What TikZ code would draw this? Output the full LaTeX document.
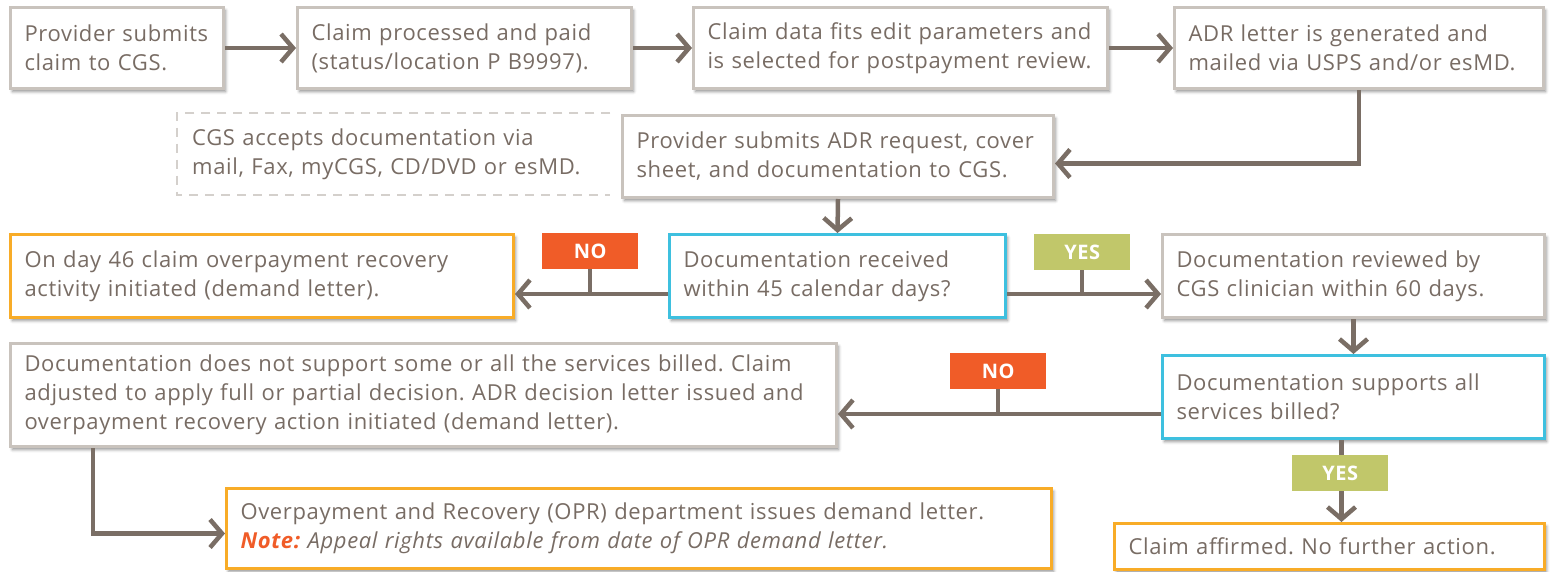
\documentclass[tikz,border=0pt]{standalone}
\usepackage{fontspec}
\setmainfont{Open Sans}[LetterSpace=3]
\usetikzlibrary{calc,positioning,shadows.blur,arrows.meta}

\definecolor{txtgray}{RGB}{120,108,100}
\definecolor{linegray}{RGB}{122,110,101}
\definecolor{boxgray}{RGB}{201,195,189}
\definecolor{dashgray}{RGB}{212,208,204}
\definecolor{qcyan}{RGB}{62,192,223}
\definecolor{endorange}{RGB}{248,172,40}
\definecolor{noorange}{RGB}{240,92,40}
\definecolor{yesgreen}{RGB}{193,199,106}

\begin{document}
\frenchspacing
\begin{tikzpicture}[x=1pt,y=-1pt]

  \tikzstyle{every node}=[font=\fontsize{22}{29}\selectfont, text=txtgray]
  \tikzstyle{box}=[draw=boxgray, line width=3pt, fill=white, anchor=north west, align=left,
    inner xsep=14pt, inner ysep=0pt,
    blur shadow={shadow xshift=2pt, shadow yshift=-3pt, shadow blur radius=3pt, shadow opacity=45}]
  \tikzstyle{question}=[box, draw=qcyan]
  \tikzstyle{final}=[box, draw=endorange]
  \tikzstyle{tag}=[anchor=north west, minimum width=96pt, minimum height=36pt, inner sep=0pt,
    text=white, font=\fontsize{20}{20}\selectfont\bfseries]
  \tikzstyle{flow}=[draw=linegray, line width=4.5pt, -{Straight Barb[length=12pt, width=28pt]}]
  \tikzstyle{stem}=[draw=linegray, line width=4.5pt]

  \useasboundingbox (0,0) rectangle (1554,571);

  %%% top row
  \node[box, text width=185pt, minimum height=81pt] (submit) at (9,6)
    {Provider submits\\claim to CGS.};
  \node[box, text width=306pt, minimum height=81pt] (paid) at (296,6)
    {Claim processed and paid\\(status/location P B9997).};
  \node[box, text width=386pt, minimum height=81pt] (select) at (692,6)
    {Claim data fits edit parameters and\\is selected for postpayment review.};
  \node[box, text width=341pt, minimum height=81pt] (adr) at (1173,6)
    {ADR letter is generated and\\mailed via USPS and/or esMD.};

  \draw[flow] (submit) -- (paid);
  \draw[flow] (paid) -- (select);
  \draw[flow] (select) -- (adr);

  %%% second row
  \node[anchor=north west, align=left, inner xsep=15pt, inner ysep=0pt, text width=403pt,
    minimum height=82pt] (via) at (177,113)
    {CGS accepts documentation via\\mail, Fax, myCGS, CD/DVD or esMD.};
  \draw[dashgray, line width=2pt, dash pattern=on 9pt off 7pt]
    (via.north east) -- (via.north west) -- (via.south west) -- (via.south east);

  \node[box, text width=403pt, minimum height=82pt] (adrreq) at (621,114)
    {Provider submits ADR request, cover\\sheet, and documentation to CGS.};

  \draw[flow] (adr.south) |- ([yshift=-7pt]adrreq.east);

  %%% third row
  \node[question, text width=308pt, minimum height=83pt] (received) at (668,233)
    {Documentation received\\within 45 calendar days?};
  \node[final, text width=475pt, minimum height=83pt] (day46) at (9,233)
    {On day 46 claim overpayment recovery\\activity initiated (demand letter).};
  \node[box, text width=354pt, minimum height=83pt] (reviewed) at (1161,233)
    {Documentation reviewed by\\CGS clinician within 60 days.};

  \draw[flow] (adrreq.south) -- (received.north);
  \draw[flow] ([yshift=-18pt]received.west) coordinate (r1) -- ([yshift=-18pt]day46.east);
  \draw[flow] ([yshift=-18pt]received.east) coordinate (r2) -- ([yshift=-18pt]reviewed.west);

  \node[tag, fill=noorange] (no1) at (542,233) {NO};
  \node[tag, fill=yesgreen] (yes1) at (1034,234) {YES};
  \draw[stem] (no1.south) -- (no1.south |- r1);
  \draw[stem] (yes1.south) -- (yes1.south |- r2);

  %%% fourth row
  \node[question, text width=354pt, minimum height=83pt] (supports) at (1161,354)
    {Documentation supports all\\services billed?};
  \node[box, text width=798pt, minimum height=103pt] (notsupp) at (9,342)
    {Documentation does not support some or all the services billed. Claim\\
     adjusted to apply full or partial decision. ADR decision letter issued and\\
     overpayment recovery action initiated (demand letter).};

  \draw[flow] (reviewed.south) -- (supports.north);
  \draw[flow] ([yshift=-17pt]supports.west) coordinate (r3) -- (notsupp.east |- r3);

  \node[tag, fill=noorange] (no2) at (950,353) {NO};
  \draw[stem] (no2.south) -- (no2.south |- r3);

  %%% bottom row
  \node[final, text width=797pt, minimum height=80pt] (opr) at (225,487)
    {Overpayment and Recovery (OPR) department issues demand letter.\\
     \textcolor{noorange}{\bfseries\itshape Note:} \itshape Appeal rights available from date of OPR demand letter.};
  \node[final, text width=402pt, minimum height=46pt] (affirmed) at (1113,522)
    {Claim affirmed. No further action.};

  \draw[flow] ([xshift=84pt]notsupp.south west) |- ([yshift=-5pt]opr.west);
  \draw[flow] ([xshift=-12pt]supports.south) coordinate (r4) -- (affirmed.north -| r4);

  \node[tag, fill=yesgreen] (yes2) at (1292,455) {YES};

\end{tikzpicture}
\end{document}
